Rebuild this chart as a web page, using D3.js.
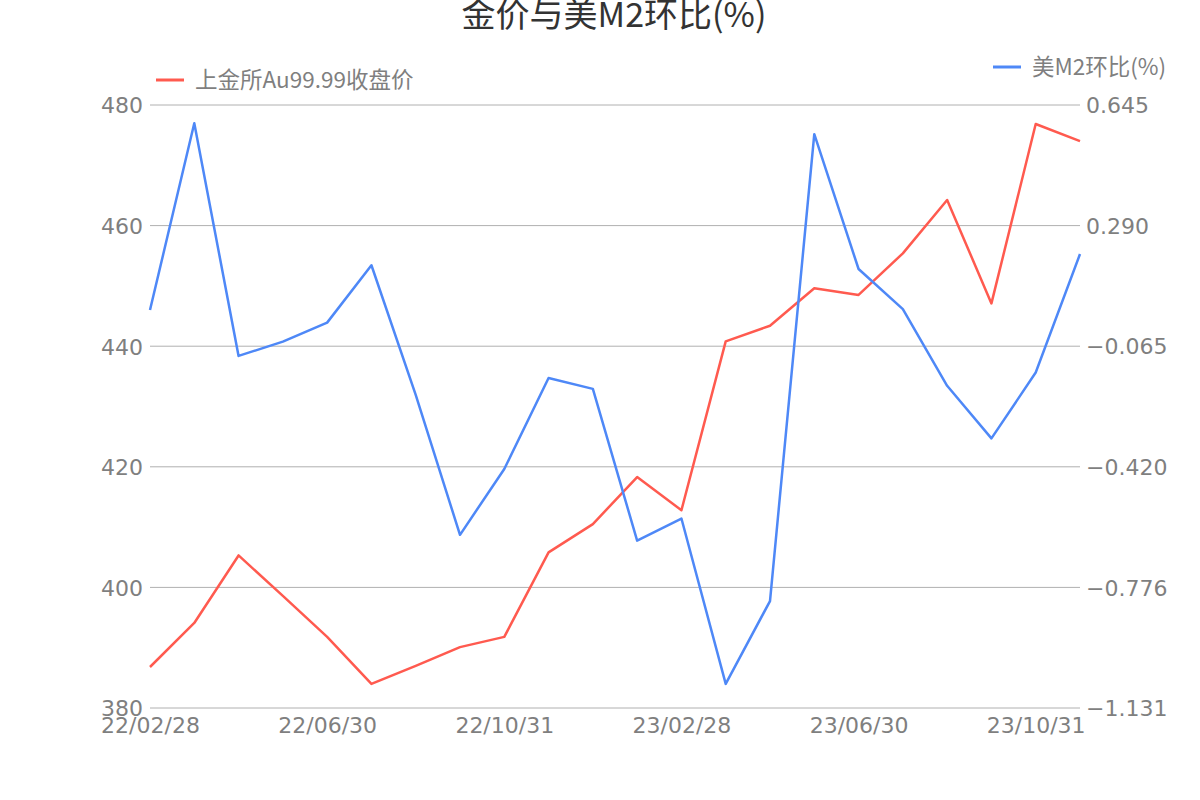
<!DOCTYPE html>
<html>
<head>
<meta charset="utf-8">
<script src="https://cdn.jsdelivr.net/npm/d3@7"></script>
<style>
  body { margin: 0; background: #fff; }
</style>
</head>
<body>
<div id="chart"></div>
<script>
// month-end dates
var dates = ["22/02/28", "22/03/31", "22/04/30", "22/05/31", "22/06/30", "22/07/31",
  "22/08/31", "22/09/30", "22/10/31", "22/11/30", "22/12/31", "23/01/31",
  "23/02/28", "23/03/31", "23/04/30", "23/05/31", "23/06/30", "23/07/31",
  "23/08/31", "23/09/30", "23/10/31", "23/11/30"];

// SGE Au99.99 close (left axis)
var goldClose = [386.8, 394.1, 405.3, 398.6, 391.8, 384.0, 387.0, 390.1, 391.8, 405.8,
  410.5, 418.3, 412.8, 440.8, 443.4, 449.6, 448.5, 455.4, 464.25, 447.1, 476.85, 474.0];

// US M2 month-on-month % (right axis)
var m2Mom = [0.041, 0.591, -0.094, -0.052, 0.004, 0.173, -0.209, -0.621, -0.427, -0.159,
  -0.191, -0.638, -0.573, -1.060, -0.816, 0.559, 0.162, 0.044, -0.182, -0.337, -0.143, 0.206];

var leftTicks = [380, 400, 420, 440, 460, 480];
var rightTicks = [-1.131, -0.776, -0.420, -0.065, 0.290, 0.645];
var xTickLabels = ["22/02/28", "22/06/30", "22/10/31", "23/02/28", "23/06/30", "23/10/31"];

var title = "金价与美M2环比(%)";
var goldName = "上金所Au99.99收盘价";
var m2Name = "美M2环比(%)";

var W = 1200, H = 800;
var margin = { top: 105, right: 120, bottom: 92, left: 150 };
var red = "#ff5a4f", blue = "#4e88f7";
var cjk = "'Noto Sans CJK SC', 'Noto Sans', sans-serif";
var num = "'DejaVu Sans', sans-serif";

var svg = d3.select("#chart").append("svg")
    .attr("width", W)
    .attr("height", H);

var x = d3.scalePoint()
    .domain(dates)
    .range([margin.left, W - margin.right]);

var yL = d3.scaleLinear()
    .domain([380, 480])
    .range([H - margin.bottom, margin.top]);

var yR = d3.scaleLinear()
    .domain([-1.131, 0.645])
    .range([H - margin.bottom, margin.top]);

// gridlines
svg.append("g")
  .selectAll("line")
  .data(leftTicks).enter()
    .append("line")
    .attr("x1", margin.left)
    .attr("x2", W - margin.right)
    .attr("y1", function(d) { return yL(d); })
    .attr("y2", function(d) { return yL(d); })
    .attr("stroke", "#b0b0b0")
    .attr("stroke-width", 1);

// left axis
var gL = svg.append("g")
    .attr("transform", "translate(" + margin.left + ",0)")
    .call(d3.axisLeft(yL).tickValues(leftTicks).tickSize(0).tickPadding(7));

// right axis
var gR = svg.append("g")
    .attr("transform", "translate(" + (W - margin.right) + ",0)")
    .call(d3.axisRight(yR).tickValues(rightTicks).tickSize(0).tickPadding(6)
      .tickFormat(function(d) { return d3.format(".3f")(d).replace("-", "\u2212"); }));

// bottom axis
var gB = svg.append("g")
    .attr("transform", "translate(0," + (H - margin.bottom) + ")")
    .call(d3.axisBottom(x).tickValues(xTickLabels).tickSize(0).tickPadding(9));

[gL, gR, gB].forEach(function(g) {
  g.select(".domain").remove();
  g.selectAll("text")
    .attr("fill", "#7f7f7f")
    .style("font-family", num)
    .style("font-size", "22px");
});
gL.selectAll("text").attr("dy", "0.36em");
gR.selectAll("text").attr("dy", "0.36em");

// lines
var goldLine = d3.line()
    .x(function(d, i) { return x(dates[i]); })
    .y(function(d) { return yL(d); });

var m2Line = d3.line()
    .x(function(d, i) { return x(dates[i]); })
    .y(function(d) { return yR(d); });

svg.append("path")
    .datum(goldClose)
    .attr("d", goldLine)
    .attr("fill", "none")
    .attr("stroke", red)
    .attr("stroke-width", 2.5)
    .attr("stroke-linejoin", "round");

svg.append("path")
    .datum(m2Mom)
    .attr("d", m2Line)
    .attr("fill", "none")
    .attr("stroke", blue)
    .attr("stroke-width", 2.5)
    .attr("stroke-linejoin", "round");

// title
svg.append("text")
    .attr("x", 614)
    .attr("y", 27)
    .attr("text-anchor", "middle")
    .attr("fill", "#333")
    .style("font-family", cjk)
    .style("font-size", "34px")
    .text(title);

// legends
var legends = [
  { name: goldName, color: red, x: 156, y: 80 },
  { name: m2Name, color: blue, x: 993, y: 67 }
];

var lg = svg.selectAll(".legend")
  .data(legends).enter()
    .append("g")
    .attr("class", "legend")
    .attr("transform", function(d) { return "translate(" + d.x + "," + d.y + ")"; });

lg.append("line")
    .attr("x1", 0)
    .attr("x2", 28)
    .attr("stroke", function(d) { return d.color; })
    .attr("stroke-width", 3);

lg.append("text")
    .attr("x", 39)
    .attr("dy", "0.35em")
    .attr("fill", "#7f7f7f")
    .style("font-family", cjk)
    .style("font-size", "22.5px")
    .text(function(d) { return d.name; });
</script>
</body>
</html>
